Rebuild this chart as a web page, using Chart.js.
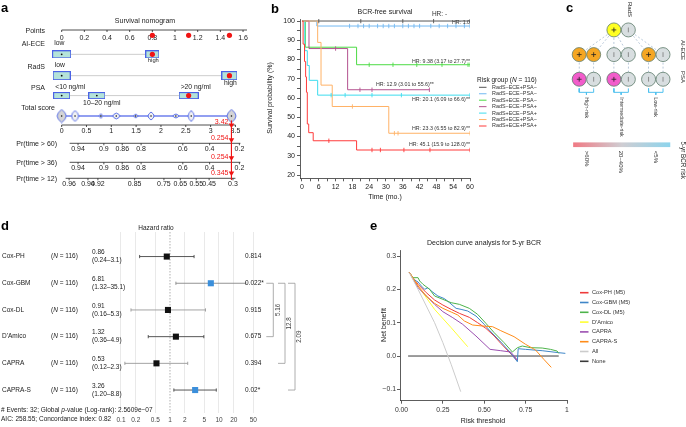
<!DOCTYPE html>
<html>
<head>
<meta charset="utf-8">
<title>Figure</title>
<script src="https://cdn.jsdelivr.net/npm/chart.js@4.4.1/dist/chart.umd.min.js"></script>
<style>
  html, body { margin: 0; padding: 0; background: #fff; }
  #fig { position: relative; width: 686px; height: 427px; overflow: hidden; background: #fff; }
  #fig canvas { position: absolute; }
</style>
</head>
<body>
<div id="fig">
  <canvas id="nomo" width="252" height="195" style="left:0;top:0"></canvas>
  <canvas id="km" width="310" height="205" style="left:250px;top:0"></canvas>
  <canvas id="tree" width="126" height="200" style="left:560px;top:0"></canvas>
  <canvas id="forest" width="310" height="207" style="left:0;top:220px"></canvas>
  <canvas id="dca" width="326" height="207" style="left:360px;top:220px"></canvas>
</div>
<script>
const FF = '"Liberation Sans", Arial, Helvetica, sans-serif';
Chart.defaults.font.family = FF;
Chart.defaults.color = '#222';
Chart.defaults.animation = false;
Chart.defaults.events = [];
Chart.defaults.plugins.legend.display = false;
Chart.defaults.plugins.tooltip.enabled = false;

// ---------- a: nomogram ----------
const pointTicks = [0, 0.2, 0.4, 0.6, 0.8, 1, 1.2, 1.4, 1.6];
const nomoVars = ['AI-ECE', 'RadS', 'PSA'];
const nomoLevels = [['low', 'high'], ['low', 'high'], ['<10 ng/ml', '10–20 ng/ml', '>20 ng/ml']];
const nomoPoints = [[0, 0.8], [0, 1.48], [0, 0.31, 1.12]];
const nomoChosen = [1, 1, 2];
const totalTicks = [0, 0.5, 1, 1.5, 2, 2.5, 3, 3.5];
const totalCombos = [0, 0.27, 0.79, 1.1, 1.49, 1.8, 2.3, 2.61, 3.42];
const totalScore = 3.42;
const survRows = ['Pr(time > 60)', 'Pr(time > 36)', 'Pr(time > 12)'];
const survTickLabels = [
  ['0.94', '0.9', '0.86', '0.8', '0.6', '0.4', '0.2'],
  ['0.94', '0.9', '0.86', '0.8', '0.6', '0.4', '0.2'],
  ['0.96', '0.94', '0.92', '0.85', '0.75', '0.65', '0.55', '0.45', '0.3']
];
const survTickAt = [
  [0.33, 0.85, 1.22, 1.6, 2.44, 2.98, 3.58],
  [0.33, 0.85, 1.22, 1.6, 2.44, 2.98, 3.58],
  [0.15, 0.53, 0.73, 1.47, 2.06, 2.39, 2.71, 2.97, 3.45]
];
const survPred = ['0.254', '0.254', '0.345'];

// ---------- b: Kaplan-Meier ----------
const kmGroups = ['RadS−ECE+PSA−', 'RadS−ECE−PSA−', 'RadS+ECE−PSA−', 'RadS−ECE−PSA+', 'RadS+ECE−PSA+', 'RadS+ECE+PSA−', 'RadS+ECE+PSA+'];
const kmTimes = [
  [0, 60],
  [0, 5.3, 60],
  [0, 1.2, 19.5, 60],
  [0, 2.5, 16.3, 45.5],
  [0, 1.0, 1.9, 2.6, 5.6, 60],
  [0, 5.6, 6.8, 10.8, 31, 60],
  [0, 0.4, 0.9, 1.3, 1.6, 1.9, 2.4, 4.0, 19.5, 60]
];
const kmSurv = [
  [100, 100],
  [100, 97.4, 97.4],
  [100, 86.4, 77.3, 77.3],
  [100, 85.7, 64.3, 64.3],
  [100, 84.6, 76.9, 69.2, 61.5, 61.5],
  [100, 88.9, 66.7, 55.6, 41.7, 41.7],
  [100, 88, 79, 71, 63, 46.5, 42, 37.8, 33, 33]
];
const kmCensor = [
  [6, 21, 36, 47, 60],
  [17, 20, 22, 24, 27, 29, 31, 33, 36, 38, 40, 42, 46, 49, 52, 55, 58, 60],
  [24, 32.5, 41, 50, 59.3, 60],
  [12, 20.7, 25, 45.5],
  [10.4, 15.4, 25, 35.5, 60],
  [18, 33, 34.3, 60],
  [9.6, 25, 28, 36.4, 45.7, 60]
];
const kmHR = ['HR: -', 'HR: 1.0', 'HR: 9.38 (3.17 to 27.7)**', 'HR: 12.9 (3.01 to 55.6)**',
  'HR: 20.1 (6.09 to 66.6)**', 'HR: 23.3 (6.55 to 82.9)**', 'HR: 45.1 (15.9 to 128.0)**'];
const kmXTicks = [0, 3, 6, 9, 12, 15, 18, 21, 24, 27, 30, 33, 36, 39, 42, 45, 48, 51, 54, 57, 60];
const kmYTicks = [20, 25, 30, 35, 40, 45, 50, 55, 60, 65, 70, 75, 80, 85, 90, 95, 100];

// ---------- c: risk tree ----------
const treeLevels = ['RadS', 'AI-ECE', 'PSA'];
const radsSigns = ['+', '−'];
const eceSigns = ['+', '+', '−', '−', '+', '−'];
const psaSigns = ['+', '−', '+', '−', '−', '−'];
const riskGroups = ['High-risk', 'Intermediate-risk', 'Low-risk'];
const riskBands = ['>60%', '20–40%', '<5%'];

// ---------- d: forest plot ----------
const fpModels = ['Cox-PH', 'Cox-GBM', 'Cox-DL', "D'Amico", 'CAPRA', 'CAPRA-S'];
const fpHR = [0.86, 6.81, 0.91, 1.32, 0.53, 3.26];
const fpLo = ['0.24', '1.32', '0.16', '0.36', '0.12', '1.20'];
const fpHi = ['3.1', '35.1', '5.3', '4.9', '2.3', '8.8'];
const fpP = ['0.814', '0.022*', '0.915', '0.675', '0.394', '0.02*'];
const fpN = 116;
const fpTicks = [0.1, 0.2, 0.5, 1, 2, 5, 10, 20, 50];
const fpCompare = [[1, 3, '5.16'], [1, 4, '12.8'], [1, 5, '2.09']];

// ---------- e: decision curves ----------
const dcaNames = ['Cox-PH (M5)', 'Cox-GBM (M5)', 'Cox-DL (M5)', "D'Amico", 'CAPRA', 'CAPRA-S', 'All', 'None'];
const coxPH = [[0.047, 0.251], [0.08, 0.228], [0.1, 0.215], [0.15, 0.19], [0.2, 0.168], [0.25, 0.153], [0.3, 0.14], [0.35, 0.128], [0.41, 0.116], [0.46, 0.1], [0.51, 0.083], [0.56, 0.06], [0.6, 0.038], [0.65, 0.012], [0.7, -0.014]];
const coxGBM = [[0.047, 0.251], [0.07, 0.232], [0.09, 0.225], [0.1, 0.222], [0.12, 0.21], [0.14, 0.2], [0.16, 0.205], [0.18, 0.195], [0.22, 0.18], [0.26, 0.172], [0.29, 0.16], [0.33, 0.143], [0.36, 0.14], [0.4, 0.135], [0.45, 0.12], [0.5, 0.095], [0.53, 0.078], [0.6, 0.042], [0.65, 0.015], [0.7, -0.017], [0.705, 0.022], [0.75, 0.02], [0.85, 0.016], [0.95, 0.01], [0.99, 0.008]];
const coxDL = [[0.047, 0.251], [0.07, 0.235], [0.1, 0.235], [0.11, 0.225], [0.13, 0.215], [0.17, 0.2], [0.2, 0.18], [0.25, 0.17], [0.3, 0.16], [0.35, 0.155], [0.41, 0.143], [0.46, 0.125], [0.51, 0.098], [0.56, 0.07], [0.62, 0.04], [0.67, 0.012], [0.7, 0.025], [0.73, 0.03], [0.78, 0.025], [0.85, 0.024], [0.9, 0.02], [0.94, 0.015], [0.95, 0.008]];
const dAmico = [[0.047, 0.251], [0.1, 0.21], [0.2, 0.14], [0.3, 0.085], [0.4, 0.028]];
const capra = [[0.047, 0.251], [0.1, 0.205], [0.15, 0.18], [0.2, 0.155], [0.25, 0.133], [0.31, 0.115], [0.37, 0.095], [0.45, 0.06], [0.535, 0.02], [0.6, 0.016], [0.66, 0.012], [0.7, -0.012]];
const capraS = [[0.047, 0.251], [0.1, 0.21], [0.15, 0.18], [0.2, 0.158], [0.25, 0.143], [0.3, 0.132], [0.34, 0.123], [0.38, 0.105], [0.43, 0.093], [0.49, 0.09], [0.55, 0.088], [0.6, 0.076], [0.68, 0.058], [0.75, 0.035], [0.81, 0.018], [0.86, -0.01], [0.905, -0.034]];
const treatAll = [[0.047, 0.25], [0.1, 0.2], [0.15, 0.15], [0.2, 0.1], [0.25, 0.04], [0.3, -0.025], [0.358, -0.107]];
const treatNone = [[0.04, 0], [0.95, 0]];
const dcaXTicks = [0, 0.25, 0.5, 0.75, 1];
const dcaXLabels = ['0.00', '0.25', '0.50', '0.75', '1'];
const dcaYTicks = [-0.1, 0, 0.1, 0.2, 0.3];
const dcaYLabels = ['−0.1', '0.0', '0.1', '0.2', '0.3'];

// ---------- helpers ----------
function T(ctx, s, x, y, o = {}) {
  ctx.save();
  ctx.font = (o.italic ? 'italic ' : '') + (o.bold ? 'bold ' : '') + (o.size || 7) + 'px ' + FF;
  ctx.fillStyle = o.color || '#222';
  ctx.textAlign = o.align || 'left';
  ctx.textBaseline = o.base || 'middle';
  ctx.translate(x, y);
  if (o.rot) ctx.rotate(o.rot * Math.PI / 180);
  ctx.fillText(s, 0, 0);
  ctx.restore();
}
// parts: [text, italic]
function TR(ctx, parts, x, y, size, color) {
  ctx.save();
  ctx.textBaseline = 'middle';
  ctx.textAlign = 'left';
  ctx.fillStyle = color || '#222';
  let cx = x;
  parts.forEach(p => {
    ctx.font = (p[1] ? 'italic ' : '') + size + 'px ' + FF;
    ctx.fillText(p[0], cx, y);
    cx += ctx.measureText(p[0]).width;
  });
  ctx.restore();
}
function seg(ctx, pts, color, width, dash) {
  ctx.save();
  ctx.strokeStyle = color;
  ctx.lineWidth = width;
  ctx.setLineDash(dash || []);
  ctx.beginPath();
  pts.forEach((p, i) => (i ? ctx.lineTo(p[0], p[1]) : ctx.moveTo(p[0], p[1])));
  ctx.stroke();
  ctx.restore();
}

// ===================== a =====================
const yA = { points: 30, vars: [52, 74.5, 95.5], dens: 117, total: 125, surv: [143.3, 162.3, 178.3] };
const boxW = [[19, 14], [18, 16], [17, 17, 20]];
const boxH = [8, 9, 7];
const levelPlace = [['up', 'down'], ['up', 'down'], ['up', 'down', 'up']];
const densSize = [[9, 13], [7, 11], [3, 5], [7, 6], [4, 4], [6, 8], [6, 4], [6, 11], [9, 13]];
const survLine = [[0.16, 3.6], [0.16, 3.6], [0.08, 3.5]];

function boxImage(w, h) {
  const c = document.createElement('canvas');
  c.width = w; c.height = h;
  const g = c.getContext('2d');
  g.fillStyle = '#B4E3D9';
  g.fillRect(0, 0, w, h);
  g.strokeStyle = '#4B63E6';
  g.lineWidth = 1;
  g.strokeRect(0.5, 0.5, w - 1, h - 1);
  return c;
}
function lensImage(w, h, fill) {
  const c = document.createElement('canvas');
  c.width = w + 2; c.height = h + 2;
  const g = c.getContext('2d');
  const cx = c.width / 2, cy = c.height / 2;
  g.beginPath();
  g.moveTo(cx, cy - h / 2);
  g.quadraticCurveTo(cx + w, cy, cx, cy + h / 2);
  g.quadraticCurveTo(cx - w, cy, cx, cy - h / 2);
  g.closePath();
  g.fillStyle = fill;
  g.fill();
  g.strokeStyle = '#4B63E6';
  g.lineWidth = 0.9;
  g.stroke();
  return c;
}
const A = (xId, d) => Object.assign({ xAxisID: xId, yAxisID: 'row' }, d);
const dsA = [];
nomoVars.forEach((v, i) => {
  const y = yA.vars[i];
  const pts = nomoPoints[i];
  dsA.push(A('pts', { data: [{ x: pts[0], y }, { x: Math.max(...pts), y }], showLine: true, borderColor: '#cdcdcd', borderWidth: 1, pointRadius: 0, order: 9 }));
  dsA.push(A('pts', { data: pts.map(p => ({ x: p, y })), pointStyle: pts.map((p, j) => boxImage(boxW[i][j], boxH[i])), pointRadius: 3, order: 5 }));
  dsA.push(A('pts', {
    data: pts.map(p => ({ x: p, y })), pointStyle: 'circle',
    pointRadius: pts.map((p, j) => (j === nomoChosen[i] ? 2.6 : 0.9)),
    pointBackgroundColor: pts.map((p, j) => (j === nomoChosen[i] ? '#F01414' : '#111')),
    pointBorderWidth: 0, order: 1
  }));
});
dsA.push(A('pts', { data: nomoChosen.map((j, i) => ({ x: nomoPoints[i][j], y: yA.points + 2 })), pointRadius: 2.6, pointBackgroundColor: '#F01414', pointBorderWidth: 0, order: 1 }));
dsA.push(A('tot', { data: [{ x: 0, y: yA.dens }, { x: totalScore, y: yA.dens }], showLine: true, borderColor: '#6E7FEC', borderWidth: 1.3, pointRadius: 0, order: 8 }));
dsA.push(A('tot', {
  data: totalCombos.map(s => ({ x: s, y: yA.dens })),
  pointStyle: totalCombos.map((s, k) => lensImage(densSize[k][0], densSize[k][1], (k === 0 || k === totalCombos.length - 1) ? '#D4D4D4' : '#F2F2F2')),
  pointRadius: 3, order: 6
}));
dsA.push(A('tot', { data: totalCombos.map(s => ({ x: s, y: yA.dens })), pointRadius: 0.8, pointBackgroundColor: '#111', pointBorderWidth: 0, order: 4 }));
dsA.push(A('tot', { data: [{ x: totalScore, y: yA.total - 3 }, { x: totalScore, y: yA.surv[2] + 6 }], showLine: true, borderColor: '#F01414', borderWidth: 1, pointRadius: 0, order: 3 }));
dsA.push(A('tot', {
  data: [yA.total + 1.5].concat(yA.surv.map(y => y - 1.2)).map(y => ({ x: totalScore, y })),
  pointStyle: 'triangle', pointRotation: 180, pointRadius: 3.2,
  pointBackgroundColor: '#F01414', pointBorderColor: '#F01414', pointBorderWidth: 0, order: 2
}));

function hAxis(ctx, scale, y, ticks, labels, from, to, gap) {
  ctx.save();
  ctx.strokeStyle = '#222';
  ctx.lineWidth = 0.8;
  ctx.beginPath();
  ctx.moveTo(scale.getPixelForValue(from), y);
  ctx.lineTo(scale.getPixelForValue(to), y);
  ticks.forEach(v => {
    const x = scale.getPixelForValue(v);
    ctx.moveTo(x, y);
    ctx.lineTo(x, y + 2);
  });
  ctx.stroke();
  ctx.restore();
  ticks.forEach((v, i) => T(ctx, labels[i], scale.getPixelForValue(v), y + gap, { size: 7, align: 'center' }));
}

const nomoText = {
  id: 'nomoText',
  beforeDatasetsDraw(chart) {
    const { ctx } = chart;
    const P = chart.scales.pts, S = chart.scales.tot;
    T(ctx, 'a', 1, 12, { size: 13, bold: true, base: 'alphabetic', color: '#000' });
    T(ctx, 'Survival nomogram', 145, 21, { align: 'center' });
    T(ctx, 'Points', 45, yA.points + 1, { align: 'right' });
    hAxis(ctx, P, yA.points, pointTicks, pointTicks.map(String), 0, 1.635, 8);
    nomoVars.forEach((v, i) => {
      const y = yA.vars[i];
      T(ctx, v, 45, y - 7.5, { align: 'right' });
      nomoLevels[i].forEach((lab, j) => {
        const cx = P.getPixelForValue(nomoPoints[i][j]);
        const hh = boxH[i] / 2;
        if (levelPlace[i][j] === 'up') T(ctx, lab, cx - boxW[i][j] / 2 + 2, y - hh - 4.5, { size: 6.8 });
        else T(ctx, lab, cx + (j === 1 && i === 2 ? 5 : 1), y + hh + 4.5, { size: i === 0 ? 5.8 : 6.8, align: 'center' });
      });
    });
    T(ctx, 'Total score', 55, 108.5, { align: 'right' });
    hAxis(ctx, S, yA.total, totalTicks, totalTicks.map(String), 0, 3.5, 6.5);
    T(ctx, String(totalScore), S.getPixelForValue(totalScore) - 3, yA.total - 3, { align: 'right', color: '#F01414' });
    survRows.forEach((r, i) => {
      const y = yA.surv[i];
      T(ctx, r, 57, y + 0.5, { align: 'right' });
      hAxis(ctx, S, y, survTickAt[i], survTickLabels[i], survLine[i][0], survLine[i][1], 6);
      T(ctx, survPred[i], S.getPixelForValue(totalScore) - 3, y - 5.3, { align: 'right', color: '#F01414' });
    });
  }
};

new Chart(document.getElementById('nomo'), {
  type: 'scatter',
  data: { datasets: dsA },
  options: {
    responsive: false,
    layout: { padding: 0 },
    scales: {
      pts: { type: 'linear', axis: 'x', min: -0.5, max: 1.635, display: false },
      tot: { type: 'linear', axis: 'x', min: -1.141, max: 3.733, display: false },
      row: { type: 'linear', axis: 'y', min: 0, max: 195, reverse: true, display: false }
    }
  },
  plugins: [nomoText]
});

// ===================== b =====================
const kmColors = ['#555555', '#72B8F2', '#4CDB44', '#B3528F', '#3DDCEE', '#FFB266', '#FF3B3B'];
const kmHRPlace = [
  { t: 46.4, dy: -6.5, align: 'left', size: 6.5 },
  { t: 60, dy: -3.5, align: 'right', size: 5.3 },
  { t: 60, dy: -3.5, align: 'right', size: 5.3 },
  { t: 26.4, dy: -5, align: 'left', size: 5.3 },
  { t: 60, dy: 4.5, align: 'right', size: 5.3 },
  { t: 60, dy: -4.5, align: 'right', size: 5.3 },
  { t: 60, dy: -5.5, align: 'right', size: 5.3 }
];
function survAt(i, t) {
  let s = kmSurv[i][0];
  kmTimes[i].forEach((tt, k) => { if (tt <= t) s = kmSurv[i][k]; });
  return s;
}
const kmDatasets = [];
kmGroups.forEach((g, i) => {
  kmDatasets.push({
    type: 'line', label: g,
    data: kmTimes[i].map((t, k) => ({ x: t, y: kmSurv[i][k] })),
    borderColor: kmColors[i], borderWidth: 1, pointRadius: 0, stepped: true, fill: false, order: 20 - i
  });
  kmDatasets.push({
    type: 'scatter',
    data: kmCensor[i].map(t => ({ x: t, y: survAt(i, t) })),
    pointStyle: 'line', pointRotation: 90, pointRadius: 2.2,
    pointBorderColor: kmColors[i], pointBorderWidth: 0.9, order: 10 - i
  });
});
const kmText = {
  id: 'kmText',
  afterDraw(chart) {
    const { ctx } = chart;
    const X = chart.scales.x, Y = chart.scales.y;
    T(ctx, 'b', 21, 13, { size: 13, bold: true, base: 'alphabetic', color: '#000' });
    T(ctx, 'BCR-free survival', 135, 12.5, { align: 'center' });
    T(ctx, 'Survival probability (%)', 20, 98, { align: 'center', rot: -90 });
    T(ctx, 'Time (mo.)', 135, 197, { align: 'center' });
    kmHR.forEach((h, i) => {
      const p = kmHRPlace[i];
      const last = kmSurv[i][kmSurv[i].length - 1];
      T(ctx, h, X.getPixelForValue(p.t), Y.getPixelForValue(last) + p.dy, { align: p.align, size: p.size, color: '#333' });
    });
    TR(ctx, [['Risk group (', false], ['N', true], [' = ' + fpN + ')', false]], 227, 80, 6.5);
    kmGroups.forEach((g, i) => {
      const y = 87.3 + i * 6.45;
      seg(ctx, [[229, y], [236.5, y]], kmColors[i], 1);
      T(ctx, g, 242, y, { size: 5.4, color: '#333' });
    });
  }
};
const kmTickStyle = { font: { size: 7 }, color: '#222', padding: 2, autoSkip: false, maxRotation: 0 };
new Chart(document.getElementById('km'), {
  type: 'line',
  data: { datasets: kmDatasets },
  options: {
    responsive: false,
    layout: { padding: { top: 19.1, right: 90, left: 0, bottom: 0 } },
    scales: {
      x: {
        type: 'linear', min: -0.71, max: 60,
        afterBuildTicks: s => { s.ticks = kmXTicks.map(v => ({ value: v })); },
        afterFit: s => { s.height = 26.7; },
        ticks: Object.assign({}, kmTickStyle, { callback: v => (v % 6 === 0 ? String(v) : '') }),
        grid: { drawOnChartArea: false, drawTicks: true, tickLength: 3, color: '#333', tickWidth: 0.8 },
        border: { color: '#333', width: 0.8 }
      },
      y: {
        type: 'linear', min: 18.3, max: 101,
        afterBuildTicks: s => { s.ticks = kmYTicks.map(v => ({ value: v })); },
        afterFit: s => { s.width = 50; },
        ticks: Object.assign({}, kmTickStyle, { callback: v => (v % 10 === 0 ? String(v) : '') }),
        grid: { drawOnChartArea: false, drawTicks: true, tickLength: 3, color: '#333', tickWidth: 0.8 },
        border: { color: '#333', width: 0.8 }
      }
    }
  },
  plugins: [kmText]
});

// ===================== c =====================
const colX = i => Math.floor(i / 2) * 2.4 + (i % 2);
const plusFill = ['#FFFF22', '#F5A623', '#F25CCB'];
const minusFill = '#D8DEE0';
const treeNodes = [
  ...radsSigns.map((s, k) => ({ x: colX(2 + k), y: 0, s, lvl: 0 })),
  ...eceSigns.map((s, k) => ({ x: colX(k), y: 1, s, lvl: 1 })),
  ...psaSigns.map((s, k) => ({ x: colX(k), y: 2, s, lvl: 2 }))
];
const C = d => Object.assign({ xAxisID: 'x', yAxisID: 'y' }, d);
const dsC = [];
eceSigns.forEach((s, k) => {
  const from = k < 4 ? colX(2) : colX(3);
  dsC.push(C({ data: [{ x: from, y: 0 }, { x: colX(k), y: 1 }], showLine: true, borderColor: '#A8BCD2', borderWidth: 0.8, borderDash: [2, 2], pointRadius: 0, order: 10 }));
  dsC.push(C({ data: [{ x: colX(k), y: 1 }, { x: colX(k), y: 2 }], showLine: true, borderColor: '#A8BCD2', borderWidth: 0.8, borderDash: [2, 2], pointRadius: 0, order: 10 }));
});
riskGroups.forEach((g, k) => {
  const a = colX(2 * k), b = colX(2 * k + 1), m = (a + b) / 2;
  dsC.push(C({ data: [{ x: a, y: 2.37 }, { x: a, y: 2.53 }, { x: b, y: 2.53 }, { x: b, y: 2.37 }], showLine: true, borderColor: '#4FC0EE', borderWidth: 1, pointRadius: 0, order: 9 }));
  dsC.push(C({ data: [{ x: m, y: 2.53 }, { x: m, y: 2.63 }], showLine: true, borderColor: '#4FC0EE', borderWidth: 1, pointRadius: 0, order: 9 }));
});
dsC.push(C({
  data: treeNodes.map(n => ({ x: n.x, y: n.y })),
  pointRadius: 7, pointStyle: 'circle',
  pointBackgroundColor: treeNodes.map(n => (n.s === '+' ? plusFill[n.lvl] : minusFill)),
  pointBorderColor: '#5E7C6C', pointBorderWidth: 0.8, order: 3
}));
dsC.push(C({ data: treeNodes.filter(n => n.s === '+').map(n => ({ x: n.x, y: n.y })), pointStyle: 'cross', pointRadius: 2.4, pointBorderColor: '#222', pointBorderWidth: 0.8, order: 1 }));
dsC.push(C({ data: treeNodes.filter(n => n.s !== '+').map(n => ({ x: n.x, y: n.y })), pointStyle: 'line', pointRotation: 90, pointRadius: 2.4, pointBorderColor: '#777', pointBorderWidth: 0.8, order: 1 }));

const treeText = {
  id: 'treeText',
  beforeDatasetsDraw(chart) {
    const { ctx } = chart;
    const X = chart.scales.x, Y = chart.scales.y;
    T(ctx, 'c', 6, 12, { size: 13, bold: true, base: 'alphabetic', color: '#000' });
    T(ctx, treeLevels[0], X.getPixelForValue(colX(3)) + 1.5, 2, { size: 6, rot: 90 });
    T(ctx, treeLevels[1], 123, 40, { size: 6, rot: 90 });
    T(ctx, treeLevels[2], 123, 71, { size: 6, rot: 90 });
    riskGroups.forEach((g, k) => {
      const m = X.getPixelForValue((colX(2 * k) + colX(2 * k + 1)) / 2);
      T(ctx, g, m, Y.getPixelForValue(2.73), { size: 5.3, rot: 90, color: '#333' });
      T(ctx, riskBands[k], m, Y.getPixelForValue(4.9), { size: 6, rot: 90, color: '#333' });
    });
    const x0 = X.getPixelForValue(-0.42), x1 = X.getPixelForValue(6.3);
    const y0 = Y.getPixelForValue(4.56), y1 = Y.getPixelForValue(4.75);
    const grd = ctx.createLinearGradient(x0, 0, x1, 0);
    grd.addColorStop(0, '#F07A84');
    grd.addColorStop(0.5, '#CFCDD2');
    grd.addColorStop(1, '#8DD4EC');
    ctx.fillStyle = grd;
    ctx.fillRect(x0, y0, x1 - x0, y1 - y0);
    T(ctx, '5-yr BCR risk', 123, Y.getPixelForValue(4.52), { size: 6.3, rot: 90 });
  }
};
new Chart(document.getElementById('tree'), {
  type: 'scatter',
  data: { datasets: dsC },
  options: {
    responsive: false,
    layout: { padding: 0 },
    scales: {
      x: { type: 'linear', min: -0.79, max: 6.85, display: false },
      y: { type: 'linear', min: -0.897, max: 6.579, reverse: true, display: false }
    }
  },
  plugins: [treeText]
});

// ===================== d =====================
const fpSig = fpP.map(p => p.indexOf('*') >= 0);
const fpLineColor = ['#444', '#888', '#999', '#444', '#999', '#444'];
const D = d => Object.assign({ xAxisID: 'x', yAxisID: 'y' }, d);
const dsD = [];
dsD.push(D({ data: [{ x: 1, y: -0.92 }, { x: 1, y: 5.86 }], showLine: true, borderColor: '#9a9a9a', borderWidth: 0.8, borderDash: [1.5, 1.5], pointRadius: 0, order: 10 }));
fpModels.forEach((m, i) => {
  dsD.push(D({ data: [{ x: +fpLo[i], y: i }, { x: +fpHi[i], y: i }], showLine: true, borderColor: fpLineColor[i], borderWidth: 0.9, pointStyle: 'line', pointRotation: 90, pointRadius: 1.6, pointBorderColor: fpLineColor[i], pointBorderWidth: 0.9, order: 5 }));
});
dsD.push(D({
  data: fpHR.map((h, i) => ({ x: h, y: i })), pointStyle: 'rect', pointRadius: 4.3,
  pointBackgroundColor: fpSig.map(s => (s ? '#3B8FDB' : '#111')), pointBorderColor: fpSig.map(s => (s ? '#3B8FDB' : '#111')),
  pointBorderWidth: 0, order: 1
}));
const forestText = {
  id: 'forestText',
  afterDraw(chart) {
    const { ctx } = chart;
    const X = chart.scales.x, Y = chart.scales.y;
    T(ctx, 'd', 1, 10, { size: 13, bold: true, base: 'alphabetic', color: '#000' });
    T(ctx, 'Hazard ratio', 156, 8, { align: 'center', size: 6.5 });
    fpModels.forEach((m, i) => {
      const y = Y.getPixelForValue(i);
      T(ctx, m, 2, y, { size: 6.5 });
      TR(ctx, [['(', false], ['N', true], [' = ' + fpN + ')', false]], 51, y, 6.5);
      T(ctx, fpHR[i].toFixed(2), 92, y - 4, { size: 6.5 });
      T(ctx, '(' + fpLo[i] + '–' + fpHi[i] + ')', 92, y + 4, { size: 6.5 });
      T(ctx, fpP[i], 245, y, { size: 6.5 });
    });
    const bx = [273.3, 285, 295];
    fpCompare.forEach((c, k) => {
      const ya = Y.getPixelForValue(c[0]), yb = Y.getPixelForValue(c[1]);
      seg(ctx, [[bx[k] - 7, ya], [bx[k], ya], [bx[k], yb], [bx[k] - 7, yb]], '#999', 0.8);
      T(ctx, c[2], bx[k] + 4.5, (ya + yb) / 2, { size: 6.3, rot: -90, align: 'center', color: '#444' });
    });
    TR(ctx, [['# Events: 32; Global ', false], ['p', true], ['-value (Log-rank): 2.5609e−07', false]], 1, 190, 6.5);
    T(ctx, 'AIC: 258.55; Concordance index: 0.82', 1, 199.3, { size: 6.5 });
  }
};
new Chart(document.getElementById('forest'), {
  type: 'scatter',
  data: { datasets: dsD },
  options: {
    responsive: false,
    layout: { padding: { left: 110, right: 48, top: 12, bottom: 0 } },
    scales: {
      x: {
        type: 'logarithmic', min: 0.0597, max: 75.4,
        afterBuildTicks: s => { s.ticks = fpTicks.map(v => ({ value: v })); },
        afterFit: s => { s.height = 14; },
        ticks: { callback: (v, i) => String(fpTicks[i]), font: { size: 6.5 }, color: '#444', padding: 3, autoSkip: false, maxRotation: 0 },
        grid: { drawTicks: false, color: c => (c.tick && c.tick.value === 1 ? 'rgba(0,0,0,0)' : '#E3E3E3'), lineWidth: 0.8 },
        border: { display: false }
      },
      y: { type: 'linear', min: -0.92, max: 5.86, reverse: true, display: false }
    }
  },
  plugins: [forestText]
});

// ===================== e =====================
const dcaColors = ['#EE3B3B', '#3F86C8', '#4DB34A', '#FFFF33', '#9B4FB0', '#FF8C1A', '#CCCCCC', '#3A3A3A'];
const dcaSeries = [coxPH, coxGBM, coxDL, dAmico, capra, capraS, treatAll, treatNone];
const dsE = dcaSeries.map((s, i) => ({
  label: dcaNames[i],
  data: s.map(p => ({ x: p[0], y: p[1] })),
  borderColor: dcaColors[i], borderWidth: 1, pointRadius: 0, fill: false, tension: 0,
  order: i === 7 ? 20 : 10 - i
}));
const dcaText = {
  id: 'dcaText',
  afterDraw(chart) {
    const { ctx } = chart;
    T(ctx, 'e', 10, 10, { size: 13, bold: true, base: 'alphabetic', color: '#000' });
    T(ctx, 'Decision curve analysis for 5-yr BCR', 124, 22.7, { align: 'center' });
    T(ctx, 'Net benefit', 24, 105, { align: 'center', rot: -90 });
    T(ctx, 'Risk threshold', 123, 201, { align: 'center' });
    dcaNames.forEach((n, i) => {
      const y = 72.7 + i * 9.8;
      seg(ctx, [[220, y], [228.5, y]], dcaColors[i], 1.6);
      T(ctx, n, 232, y, { size: 5.7, color: '#333' });
    });
  }
};
const dcaTickStyle = { font: { size: 6.8 }, color: '#333', autoSkip: false, maxRotation: 0 };
new Chart(document.getElementById('dca'), {
  type: 'line',
  data: { datasets: dsE },
  options: {
    responsive: false,
    layout: { padding: { top: 30, right: 119, left: 0, bottom: 0 } },
    scales: {
      x: {
        type: 'linear', min: -0.009, max: 1,
        afterBuildTicks: s => { s.ticks = dcaXTicks.map(v => ({ value: v })); },
        afterFit: s => { s.height = 26.3; },
        ticks: Object.assign({}, dcaTickStyle, { padding: 2, callback: (v, i) => dcaXLabels[i] }),
        grid: { drawOnChartArea: false, drawTicks: true, tickLength: 3, color: '#333', tickWidth: 0.8 },
        border: { color: '#333', width: 0.8 }
      },
      y: {
        type: 'linear', min: -0.134, max: 0.318,
        afterBuildTicks: s => { s.ticks = dcaYTicks.map(v => ({ value: v })); },
        afterFit: s => { s.width = 40; },
        ticks: Object.assign({}, dcaTickStyle, { padding: 1, callback: (v, i) => dcaYLabels[i] }),
        grid: { drawOnChartArea: false, drawTicks: true, tickLength: 3, color: '#333', tickWidth: 0.8 },
        border: { color: '#333', width: 0.8 }
      }
    }
  },
  plugins: [dcaText]
});
</script>
</body>
</html>
